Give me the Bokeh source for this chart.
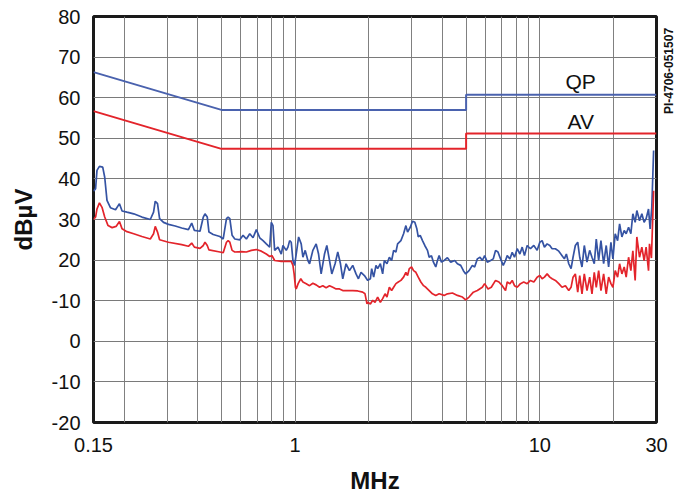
import math
from bokeh.plotting import figure
from bokeh.models import FixedTicker, CustomJSTickFormatter, Label, Range1d, LinearAxis
from bokeh.embed import file_html
from bokeh.resources import INLINE

# ---- data ----
x_ticks = [0.15, 1, 10, 30]
y_ticks = [-20, -10, 0, 10, 20, 30, 40, 50, 60, 70, 80]
y_tick_labels = ["-20", "-10", "0", "-10", "20", "30", "40", "50", "60", "70", "80"]
x_grid = [0.2, 0.3, 0.4, 0.5, 0.6, 0.7, 0.8, 0.9, 1, 2, 3, 4, 5, 6, 7, 8, 9, 10, 20]
figure_id = "PI-4706-051507"

qp_limit_freq = [0.15, 0.5, 5.0, 5.0, 30.0]
qp_limit_db = [66.3, 57.0, 57.0, 60.7, 60.7]
av_limit_freq = [0.15, 0.5, 5.0, 5.0, 30.0]
av_limit_db = [56.7, 47.4, 47.4, 51.2, 51.2]

qp_freq = [0.150, 0.153, 0.155, 0.1586, 0.1636, 0.1667, 0.1703, 0.1759, 0.1846, 0.1915, 0.1963, 0.2055,
           0.219, 0.2366, 0.256, 0.264, 0.2682, 0.274, 0.2794, 0.2899, 0.3038, 0.3236, 0.3441, 0.3664,
           0.378, 0.3877, 0.4087, 0.4216, 0.4283, 0.4376, 0.4446, 0.4628, 0.4928, 0.5084, 0.5243,
           0.5325, 0.5411, 0.5528, 0.5671, 0.5943, 0.6130, 0.6323, 0.6527, 0.6733, 0.6944, 0.7169, 0.7395,
           0.7627, 0.7875, 0.7994, 0.8122, 0.825, 0.8513, 0.8781, 0.8921, 0.9202, 0.9350, 0.9500, 0.9645,
           0.9800, 0.9957, 1.0107, 1.0338, 1.0593, 1.0763, 1.0999, 1.1280, 1.1461, 1.1820, 1.2193, 1.2471,
           1.2779, 1.3192, 1.3481, 1.3827, 1.4127, 1.4571, 1.4944, 1.5328, 1.5663, 1.6155, 1.6678, 1.7204,
           1.7745, 1.8150, 1.8599, 1.9200,
           1.981, 2.031, 2.056, 2.095, 2.141, 2.175, 2.231, 2.280, 2.316, 2.374, 2.428, 2.481, 2.528, 2.583,
           2.624, 2.707, 2.776, 2.837, 2.882, 2.956, 3.021, 3.086, 3.145, 3.187, 3.246, 3.317, 3.389, 3.476,
           3.532, 3.609, 3.677, 3.758, 3.818, 3.879, 3.964, 4.066, 4.194, 4.326, 4.492, 4.607, 4.752, 4.874,
           4.980, 5.141, 5.303, 5.418, 5.558, 5.700, 5.825, 5.952, 6.104, 6.296, 6.456, 6.597, 6.748, 6.914,
           7.092, 7.246,
           7.362, 7.551, 7.716, 7.885, 8.087, 8.294, 8.476, 8.660, 8.882, 9.162, 9.458, 9.757, 10.006,
           10.225, 10.449, 10.717, 10.991, 11.232, 11.585, 11.961, 12.337, 12.607, 12.845, 13.138, 13.425,
           13.678, 13.977, 14.294, 14.566, 14.882, 15.207, 15.597, 15.996, 16.346, 16.703, 17.019, 17.407,
           17.785, 18.241, 18.692, 19.119, 19.537, 19.906, 20.341, 20.805, 21.198, 21.661, 22.136, 22.554,
           23.068, 23.569, 24.016, 24.541, 24.934, 25.573, 26.133, 26.700, 27.208, 27.829, 28.249, 28.70,
           29.2]
qp_db = [37.0, 37.6, 42.1, 43.1, 42.9, 40.4, 34.7, 32.9, 32.4, 33.9, 32.1, 31.8,
         31.4, 30.6, 30.0, 31.8, 34.5, 33.9, 30.2, 29.3, 28.8, 28.4, 27.9, 27.5,
         29.1, 27.3, 27.1, 30.6, 31.4, 30.6, 26.9, 26.3, 25.8, 25.2, 30.2,
         30.6, 30.2, 26.1, 25.2, 25.0, 26.1, 25.2, 26.5, 25.5, 27.5, 25.5, 24.8,
         24.0, 23.2, 29.3, 28.5, 22.4, 23.2, 21.5, 23.6, 22.4, 23.2, 24.8, 24.4,
         19.9, 18.7, 21.5, 25.7, 24.0, 20.7, 22.4, 19.9, 19.1, 22.4, 24.0, 21.5,
         16.6, 21.5, 23.6, 19.9, 16.6, 19.1, 22.0, 19.1, 15.4, 19.1, 17.4, 18.7,
         16.6, 15.4, 17.0, 16.2,
         15.0, 15.4, 17.9, 15.8, 18.7, 17.9, 19.1, 16.6, 19.9, 19.1, 20.7, 19.9, 22.4, 22.0,
         24.0, 24.8, 26.5, 28.5, 26.9, 28.1, 29.6, 29.3, 27.7, 25.7, 26.1, 24.8, 23.6, 22.4,
         20.7, 21.1, 19.5, 18.3, 19.9, 21.1, 19.5, 19.9, 20.6, 19.5, 19.9, 19.1, 18.7, 17.4,
         16.6, 17.4, 18.7, 18.3, 20.3, 20.7, 19.9, 21.1, 19.5, 19.9, 20.3, 22.4, 22.0, 20.3,
         18.7, 19.9,
         21.1, 20.3, 21.9, 20.7, 22.8, 21.5, 23.2, 21.1, 23.6, 22.8, 23.6, 22.4, 24.4,
         24.8, 23.2, 24.0, 23.6, 22.8, 22.8, 22.2, 21.1, 20.3, 21.5, 19.1, 17.9,
         20.7, 23.6, 24.4, 20.7, 18.3, 23.6, 19.5, 22.4, 20.7, 19.1, 25.2, 19.9,
         24.8, 19.1, 23.6, 18.3, 24.4, 20.3, 26.5, 24.8, 28.9, 25.7, 27.3, 26.5,
         28.1, 26.5, 31.4, 29.3, 32.2, 29.7, 31.4, 29.3, 30.2, 32.6, 27.7, 33.0,
         47.0]

av_freq = [0.150, 0.153, 0.155, 0.1586, 0.1625, 0.1667, 0.1720, 0.1787, 0.1855, 0.1915, 0.1963, 0.2055,
           0.219, 0.2366, 0.256, 0.264, 0.2682, 0.274, 0.2794, 0.3038, 0.3441, 0.3664, 0.378, 0.3877,
           0.4087, 0.4216, 0.4283, 0.4376, 0.4446, 0.4928, 0.5084, 0.5243,
           0.5325, 0.5411, 0.5528, 0.5671, 0.6034, 0.6323, 0.6626, 0.6944, 0.7279, 0.7627, 0.7875, 0.8047,
           0.825, 0.8781, 0.935, 0.9645, 0.980, 0.991, 1.0035, 1.0107, 1.029, 1.055, 1.0763, 1.1103, 1.1461,
           1.182, 1.2193, 1.2587, 1.298, 1.3389, 1.3827, 1.4262, 1.4711, 1.5185, 1.5663, 1.6415, 1.7204,
           1.8033, 1.8897, 1.9310, 1.9675,
           1.981, 2.031, 2.076, 2.122, 2.175, 2.231, 2.280, 2.332, 2.374, 2.428, 2.481, 2.528, 2.583, 2.641,
           2.707, 2.776, 2.837, 2.882, 2.929, 2.993, 3.050, 3.116, 3.187, 3.266, 3.350, 3.423, 3.532, 3.643,
           3.758, 3.879, 4.066, 4.194, 4.396, 4.607, 4.829, 4.980, 5.141, 5.353, 5.558, 5.825, 5.952, 6.145,
           6.338, 6.597, 6.810, 7.024, 7.246,
           7.362, 7.551, 7.716, 7.885, 8.087, 8.34, 8.60, 8.882, 9.162, 9.458, 9.757, 10.006, 10.225,
           10.449, 10.717, 10.991, 11.232, 11.585, 11.961, 12.337, 12.73, 13.138, 13.425, 13.678, 13.977,
           14.294, 14.566, 14.882, 15.207, 15.597, 15.996, 16.346, 16.703, 17.019, 17.407, 17.785, 18.241,
           18.692, 19.119, 19.537, 19.906, 20.341, 20.805, 21.198, 21.661, 22.136, 22.554, 23.068, 23.569,
           24.016, 24.541, 24.934, 25.573, 26.133, 26.700, 27.208, 27.829, 28.09, 28.6, 29.2]
av_db = [30.0, 30.6, 32.6, 34.1, 33.0, 30.6, 28.5, 28.0, 28.3, 29.5, 27.7, 27.0,
         26.5, 25.8, 25.2, 26.5, 28.3, 26.9, 25.0, 24.4, 23.8, 23.4, 24.2, 23.2,
         22.9, 23.6, 24.4, 23.6, 22.5, 22.0, 21.8, 24.4,
         24.8, 24.4, 22.4, 22.0, 22.1, 22.0, 22.4, 22.6, 22.2, 21.5, 20.9, 21.1,
         19.9, 19.7, 19.7, 19.7, 18.7, 16.6, 13.3, 12.9, 14.2, 15.4, 14.6, 14.2, 13.7,
         14.3, 13.9, 13.3, 13.7, 13.2, 13.7, 13.3, 12.9, 12.9, 12.5, 12.5, 12.5,
         12.4, 12.1, 11.7, 9.2,
         9.6, 9.2, 10.1, 9.6, 10.9, 9.6, 10.5, 11.7, 10.9, 13.3, 12.5, 13.3, 14.2, 14.6,
         15.0, 15.8, 17.0, 16.2, 17.9, 18.3, 17.4, 17.0, 15.8, 14.6, 13.7, 13.3, 12.5, 11.7,
         11.3, 11.7, 11.3, 11.7, 11.9, 11.3, 10.9, 10.2, 10.9, 12.1, 12.5, 13.3, 14.2, 12.9,
         13.3, 15.0, 14.6, 13.7, 12.5,
         14.6, 14.2, 15.0, 13.7, 13.3, 14.2, 14.6, 14.2, 15.0, 14.6, 15.8, 16.2, 15.4,
         15.8, 16.6, 15.8, 15.4, 15.0, 14.2, 13.3, 13.7, 12.5, 13.3, 15.8, 16.6,
         12.1, 16.2, 11.7, 16.6, 12.5, 15.8, 11.7, 17.0, 13.3, 17.4, 12.5, 16.6,
         11.7, 15.8, 14.2, 13.3, 17.4, 15.8, 19.1, 16.6, 18.3, 15.8, 20.7, 17.4,
         22.3, 15.0, 25.7, 20.7, 23.2, 19.9, 23.2, 17.4, 24.0, 20.5, 37.1]

BLUE = "#3553a3"
LIMIT_BLUE = "#4a62ae"
RED = "#e3242b"
FONT = "Liberation Sans"

p = figure(x_axis_type="log", x_range=Range1d(0.15, 30), y_range=Range1d(-20, 80),
           frame_width=563, frame_height=406,
           min_border_left=93, min_border_right=24, min_border_top=16, min_border_bottom=68,
           output_backend="svg", toolbar_location=None, background_fill_color="white")

# grids
p.xgrid.ticker = FixedTicker(ticks=x_grid)
p.ygrid.ticker = FixedTicker(ticks=y_ticks)
p.xgrid.grid_line_color = "#808080"
p.ygrid.grid_line_color = "#7a7a7a"
p.xgrid.grid_line_width = 1
p.ygrid.grid_line_width = 1

# axes
p.xaxis.ticker = FixedTicker(ticks=x_ticks)
p.yaxis.ticker = FixedTicker(ticks=y_ticks)
p.xaxis.formatter = CustomJSTickFormatter(code="return tick.toString();")
p.yaxis.formatter = CustomJSTickFormatter(
    args=dict(vals=y_ticks, labs=y_tick_labels),
    code="const i = vals.indexOf(tick); return i >= 0 ? labs[i] : tick.toString();")
for ax in (p.xaxis, p.yaxis):
    ax.axis_line_color = None
    ax.major_tick_line_color = None
    ax.minor_tick_line_color = None
    ax.major_label_text_font = FONT
    ax.major_label_text_font_size = "20px"
    ax.major_label_text_color = "#111111"
    ax.axis_label_text_font = FONT
    ax.axis_label_text_font_size = "24px"
    ax.axis_label_text_font_style = "bold"
    ax.axis_label_text_color = "#111111"
p.xaxis.axis_label = "MHz"
p.yaxis.axis_label = "dBµV"
p.xaxis.major_label_standoff = 9
p.yaxis.major_label_standoff = 7
p.xaxis.axis_label_standoff = 12
p.yaxis.axis_label_standoff = 12

# figure identifier on the right side, reading bottom to top
id_axis = LinearAxis(ticker=FixedTicker(ticks=[69.5]),
                     formatter=CustomJSTickFormatter(args=dict(t=figure_id), code="return t;"),
                     axis_line_color=None, major_tick_line_color=None, minor_tick_line_color=None,
                     major_label_orientation=math.pi / 2, major_label_standoff=7,
                     major_label_text_font=FONT, major_label_text_font_size="12px",
                     major_label_text_font_style="bold", major_label_text_color="#111111")
p.add_layout(id_axis, "right")

p.outline_line_color = "#1a1a1a"
p.outline_line_width = 3

# limit lines
p.line(qp_limit_freq, qp_limit_db, line_color=LIMIT_BLUE, line_width=2)
p.line(av_limit_freq, av_limit_db, line_color=RED, line_width=2)
# measured traces
p.line(qp_freq, qp_db, line_color=BLUE, line_width=1.7)
p.line(av_freq, av_db, line_color=RED, line_width=1.7)

p.add_layout(Label(x=14.7, y=64.1, text="QP", text_font=FONT, text_font_size="21px",
                   text_align="center", text_baseline="middle", text_color="#111111"))
p.add_layout(Label(x=14.7, y=54.1, text="AV", text_font=FONT, text_font_size="21px",
                   text_align="center", text_baseline="middle", text_color="#111111"))

open("out.html", "w").write(file_html(p, INLINE))
